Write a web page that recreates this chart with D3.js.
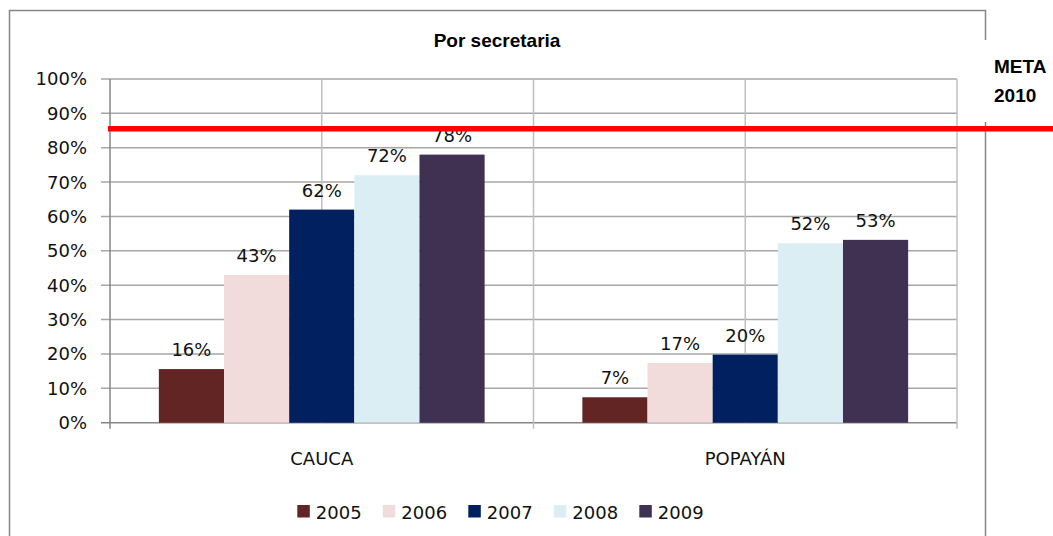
<!DOCTYPE html>
<html>
<head>
<meta charset="utf-8">
<script src="https://cdn.jsdelivr.net/npm/d3@7"></script>
<style>
  body { margin: 0; background: #fff; }
  svg { display: block; }
</style>
</head>
<body>
<svg id="chart"></svg>
<script>
// data
const categories = ['CAUCA', 'POPAYÁN'];
const years = ['2005', '2006', '2007', '2008', '2009'];
const caucaValues = [0.156, 0.43, 0.62, 0.72, 0.78];
const popayanValues = [0.074, 0.174, 0.198, 0.522, 0.532];
const yTicks = [0, 0.1, 0.2, 0.3, 0.4, 0.5, 0.6, 0.7, 0.8, 0.9, 1];
const metaValue = 0.855;
const metaLabel = ['META', '2010'];
const yearColors = ['#632523', '#f2dcdb', '#002060', '#dbeef4', '#403152'];

const width = 1053;
const height = 536;
const plot = { left: 110, right: 957, top: 79, bottom: 422.7 };
const gridColor = '#a6a6a6';
const axisColor = '#868686';
const numFont = '"DejaVu Sans", Verdana, sans-serif';
const boldFont = '"Liberation Sans", Arial, sans-serif';

const rows = categories.map((c, i) => ({
  cat: c,
  values: [caucaValues, popayanValues][i].map((v, j) => ({ year: years[j], value: v })),
}));

const svg = d3.select('#chart')
  .attr('width', width)
  .attr('height', height);

// outer chart frame
svg.append('rect')
  .attr('x', 9.5).attr('y', 10.5)
  .attr('width', 976).attr('height', 540)
  .attr('fill', 'none')
  .attr('stroke', axisColor)
  .attr('stroke-width', 1.5);

// white box behind META label covering the frame edge
svg.append('rect')
  .attr('x', 975).attr('y', 40)
  .attr('width', 78).attr('height', 82)
  .attr('fill', '#fff');

svg.append('text')
  .attr('x', 497).attr('y', 46.5)
  .attr('text-anchor', 'middle')
  .attr('font-family', boldFont)
  .attr('font-weight', 'bold')
  .attr('font-size', 19)
  .text('Por secretaria');

const y = d3.scaleLinear().domain([0, 1]).range([plot.bottom, plot.top]);
const x0 = d3.scaleBand().domain(categories).range([plot.left, plot.right]);
const bw = x0.bandwidth();
const barW = bw / (years.length + 1.5);
const x1 = d3.scaleBand().domain(years)
  .range([barW * 0.75, bw - barW * 0.75]);
const color = d3.scaleOrdinal().domain(years).range(yearColors);

// horizontal gridlines
svg.append('g')
  .selectAll('line')
  .data(yTicks)
  .join('line')
  .attr('x1', plot.left - 9).attr('x2', plot.right)
  .attr('y1', (d) => y(d)).attr('y2', (d) => y(d))
  .attr('stroke', (d) => (d === 0 ? axisColor : gridColor))
  .attr('stroke-width', 1.5);

// vertical gridlines at category edges and centres
const vLines = [];
categories.forEach((c) => {
  vLines.push(x0(c));
  vLines.push(x0(c) + bw / 2);
});
vLines.push(plot.right);
svg.append('g')
  .selectAll('line')
  .data(vLines)
  .join('line')
  .attr('x1', (d) => d).attr('x2', (d) => d)
  .attr('y1', plot.top)
  .attr('y2', (d, i) => (i % 2 === 0 ? plot.bottom + 6 : plot.bottom))
  .attr('stroke', (d, i) => (i === 0 ? axisColor : '#bfbfbf'))
  .attr('stroke-width', 1.5);

// y tick labels
svg.append('g')
  .selectAll('text')
  .data(yTicks)
  .join('text')
  .attr('x', 87)
  .attr('y', (d) => y(d))
  .attr('dy', '0.36em')
  .attr('text-anchor', 'end')
  .attr('font-family', numFont)
  .attr('font-size', 18)
  .attr('fill', '#111')
  .text(d3.format('.0%'));

// bars
const groups = svg.append('g')
  .selectAll('g')
  .data(rows)
  .join('g')
  .attr('transform', (d) => `translate(${x0(d.cat)},0)`);

groups.selectAll('rect')
  .data((d) => d.values)
  .join('rect')
  .attr('x', (d) => x1(d.year))
  .attr('width', x1.bandwidth())
  .attr('y', (d) => y(d.value))
  .attr('height', (d) => y(0) - y(d.value))
  .attr('fill', (d) => color(d.year));

groups.selectAll('text')
  .data((d) => d.values)
  .join('text')
  .attr('x', (d) => x1(d.year) + x1.bandwidth() / 2)
  .attr('y', (d) => y(d.value) - 13)
  .attr('text-anchor', 'middle')
  .attr('font-family', numFont)
  .attr('font-size', 18)
  .attr('fill', '#111')
  .text((d) => d3.format('.0%')(d.value));

// category labels
svg.append('g')
  .selectAll('text')
  .data(categories)
  .join('text')
  .attr('x', (d) => x0(d) + bw / 2)
  .attr('y', 465)
  .attr('text-anchor', 'middle')
  .attr('font-family', numFont)
  .attr('font-size', 18)
  .attr('fill', '#111')
  .text((d) => d);

// meta line drawn over everything
svg.append('line')
  .attr('x1', 108).attr('x2', width)
  .attr('y1', y(metaValue)).attr('y2', y(metaValue))
  .attr('stroke', '#ff0000')
  .attr('stroke-width', 5.5);

svg.append('g')
  .selectAll('text')
  .data(metaLabel)
  .join('text')
  .attr('x', 994)
  .attr('y', (d, i) => 72.5 + i * 29.5)
  .attr('font-family', boldFont)
  .attr('font-weight', 'bold')
  .attr('font-size', 19)
  .text((d) => d);

// legend
const legend = svg.append('g')
  .selectAll('g')
  .data(years)
  .join('g')
  .attr('transform', (d, i) => `translate(${297.3 + i * 85.5},505)`);

legend.append('rect')
  .attr('width', 12.5).attr('height', 12.5)
  .attr('fill', (d) => color(d));

legend.append('text')
  .attr('x', 18.5).attr('y', 14)
  .attr('font-family', numFont)
  .attr('font-size', 18)
  .attr('fill', '#111')
  .text((d) => d);
</script>
</body>
</html>
